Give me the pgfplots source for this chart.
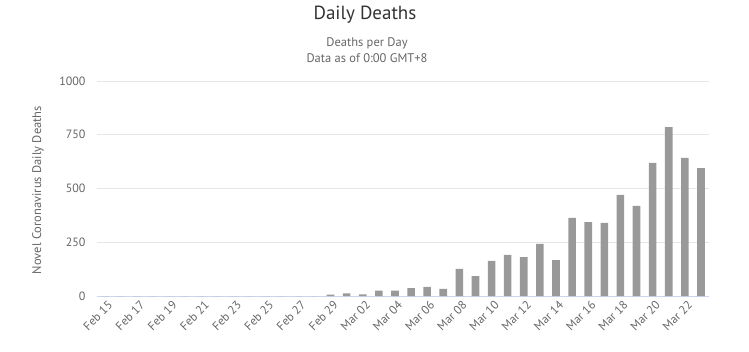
\documentclass[border=0pt]{standalone}
\usepackage{fontspec}
\setmainfont{PT Sans}
\usepackage{pgfplots}
\pgfplotsset{compat=1.18}
\definecolor{bar}{HTML}{999999}
\definecolor{gridc}{HTML}{E6E6E6}
\definecolor{axc}{HTML}{CCD6EB}
\definecolor{lab}{HTML}{666666}
\definecolor{ttl}{HTML}{333333}
\begin{document}
\begin{tikzpicture}
\begin{axis}[
  name=ax,
  scale only axis, width=612pt, height=215pt,
  xmin=-0.5, xmax=37.5, ymin=0, ymax=1000,
  ytick={0,250,500,750,1000},
  xtick={0,2,...,36},
  xticklabels={Feb 15,Feb 17,Feb 19,Feb 21,Feb 23,Feb 25,Feb 27,Feb 29,Mar 02,Mar 04,Mar 06,Mar 08,Mar 10,Mar 12,Mar 14,Mar 16,Mar 18,Mar 20,Mar 22},
  x tick label style={rotate=45, anchor=north east, font=\fontsize{12}{14}\selectfont, text=lab, xshift=2pt, yshift=-1pt},
  y tick label style={font=\fontsize{12}{14}\selectfont, text=lab, xshift=-8pt},
  /pgf/number format/assume math mode=true,
  /pgf/number format/1000 sep={},
  ymajorgrids, grid style={gridc, line width=0.8pt},
  major tick length=0pt,
  axis x line*=bottom, axis y line*=left,
  y axis line style={draw=none},
  x axis line style={axc, line width=0.8pt, -},
  clip=false,
]
\addplot[ybar, bar width=7.6pt, fill=bar, draw=none] coordinates {
(0,0) (1,0) (2,0) (3,0) (4,0) (5,0) (6,0) (7,0) (8,0) (9,0) (10,0) (11,0) (12,0) (13,0)
(14,6) (15,12) (16,8) (17,25) (18,25) (19,37) (20,42) (21,33)
(22,126) (23,93) (24,163) (25,191) (26,181) (27,242) (28,167)
(29,363) (30,344) (31,340) (32,470) (33,419) (34,619) (35,786) (36,642) (37,595)
};
\end{axis}
\begin{scope}[shift={(ax.south west)}, x=1pt, y=1pt]
\node[font=\fontsize{19}{21}\selectfont, text=ttl] at (268,281) {Daily Deaths};
\node[font=\fontsize{12.5}{14}\selectfont, text=lab] at (270,253) {Deaths per Day};
\node[font=\fontsize{12.5}{14}\selectfont, text=lab] at (270,238) {Data as of 0:00 GMT+8};
\node[font=\fontsize{12.5}{14}\selectfont, text=lab, rotate=90] at (-59,106) {Novel Coronavirus Daily Deaths};
\pgfresetboundingbox
\useasboundingbox (-97,-55) rectangle (652,296);
\end{scope}
\end{tikzpicture}
\end{document}
